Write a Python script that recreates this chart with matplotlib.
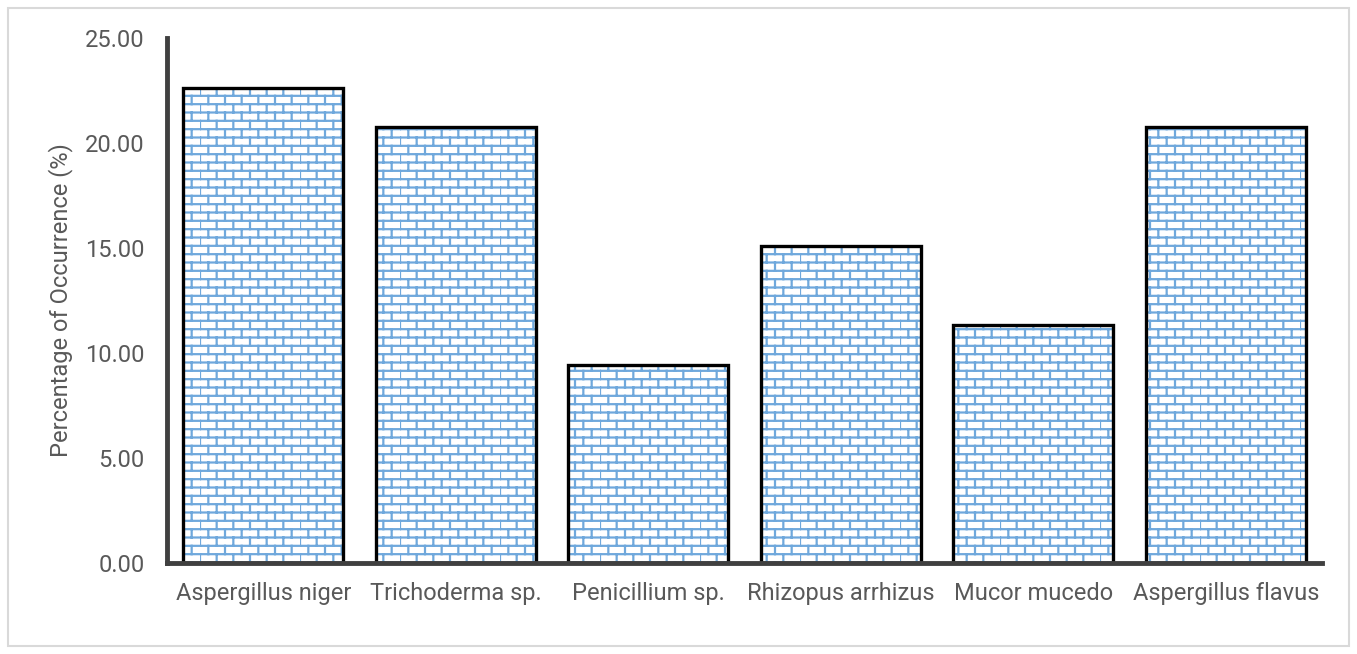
import numpy as np
import matplotlib
matplotlib.use("Agg")
import matplotlib.pyplot as plt
import matplotlib.hatch as mhatch
from matplotlib.path import Path
from matplotlib.patches import Rectangle

# ---------------------------------------------------------------
# data
# ---------------------------------------------------------------
species = ["Aspergillus niger", "Trichoderma sp.", "Penicillium sp.",
           "Rhizopus arrhizus", "Mucor mucedo", "Aspergillus flavus"]
occurrence = [22.64, 20.75, 9.43, 15.09, 11.32, 20.75]
y_ticks = [0, 5, 10, 15, 20, 25]


# ---------------------------------------------------------------
# brick hatch: staggered vertical joints between the '-' lines
# ---------------------------------------------------------------
class BrickJoints(mhatch.HatchPatternBase):
    def __init__(self, hatch, density):
        self.num_rows = int(hatch.count('-') * density)
        self.num_bricks = int(hatch.count('|') * density)
        if self.num_rows and self.num_bricks:
            self.num_vertices = (self.num_rows + 1) * self.num_bricks * 2
        else:
            self.num_vertices = 0

    def set_vertices_and_codes(self, vertices, codes):
        rows, per = self.num_rows, self.num_bricks
        sy, sx = 1.0 / rows, 1.0 / per
        segs = []
        for r in range(rows):
            off = 0.5 * sx if r % 2 else 0.0
            y0 = r * sy + sy / 2
            y1 = y0 + sy
            for b in range(per):
                x = b * sx + off
                if y1 <= 1.0 + 1e-9:
                    segs.append((x, y0, x, y1))
                else:
                    segs.append((x, y0, x, 1.0))
                    segs.append((x, 0.0, x, y1 - 1.0))
        segs = np.array(segs)
        vertices[0::2, 0] = segs[:, 0]
        vertices[0::2, 1] = segs[:, 1]
        vertices[1::2, 0] = segs[:, 2]
        vertices[1::2, 1] = segs[:, 3]
        codes[0::2] = Path.MOVETO
        codes[1::2] = Path.LINETO


mhatch._hatch_types = [t for t in mhatch._hatch_types
                       if t is not mhatch.VerticalHatch] + [BrickJoints]

plt.rcParams["font.family"] = ["Roboto", "DejaVu Sans"]
plt.rcParams["hatch.linewidth"] = 1.6

text_color = "#595959"
axis_color = "#404040"
brick_color = "#6fa8dc"

fig = plt.figure(figsize=(13.57, 6.54), dpi=100)
ax = fig.add_axes([167 / 1357, 1 - 563 / 654, (1322 - 167) / 1357, (563 - 38) / 654])

x = np.arange(len(species))
ax.bar(x, occurrence, width=0.83, color="white", edgecolor=brick_color,
       linewidth=0, hatch="--|", zorder=2)
ax.bar(x, occurrence, width=0.83, fill=False, edgecolor="black",
       linewidth=2.4, zorder=3)

ax.set_xlim(-0.5, len(species) - 0.5)
ax.set_ylim(0, 25)
ax.set_yticks(y_ticks)
ax.set_yticklabels([f"{v:.2f}" for v in y_ticks])
ax.set_xticks(x)
ax.set_xticklabels(species)
ax.tick_params(length=0, labelsize=17, labelcolor=text_color)
ax.tick_params(axis="x", pad=14)
ax.tick_params(axis="y", pad=16)

for side in ["top", "right"]:
    ax.spines[side].set_visible(False)
for side in ["left", "bottom"]:
    ax.spines[side].set_color(axis_color)
    ax.spines[side].set_linewidth(3.5)
    ax.spines[side].set_zorder(4)

ax.set_ylabel("Percentage of Occurrence (%)", fontsize=17, color=text_color,
              labelpad=9)

# light frame round the whole chart
fig.patches.append(Rectangle((8 / 1357, 8 / 654), 1341 / 1357, 638 / 654,
                             transform=fig.transFigure, fill=False,
                             edgecolor="#d9d9d9", linewidth=1.5))

fig.savefig("out.png", dpi=100)
